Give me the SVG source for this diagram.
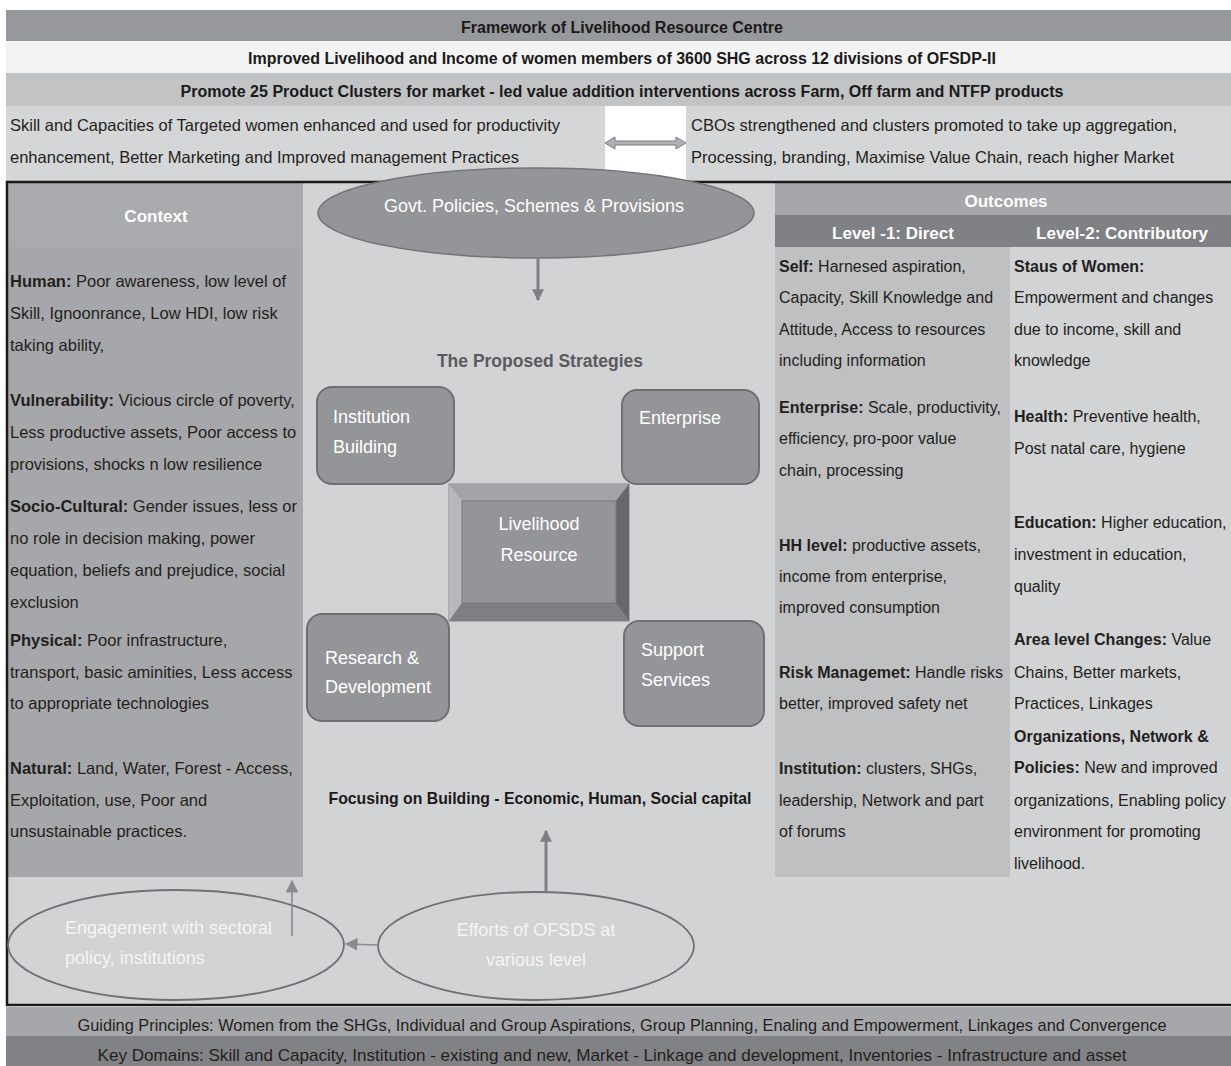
<svg xmlns="http://www.w3.org/2000/svg" width="1231" height="1066" viewBox="0 0 1231 1066">
<style>
text{font-family:"Liberation Sans",Arial,sans-serif;}
.b{font-weight:bold;}
.hd{font-size:16px;font-weight:bold;fill:#1a1a1a;text-anchor:middle;}
.body{font-size:16.5px;fill:#231f20;}
.rb{font-size:16px;fill:#231f20;}
.wh{font-size:17px;font-weight:bold;fill:#ffffff;text-anchor:middle;}
.box{fill:#949598;stroke:#6f7073;stroke-width:2;}
.bt{font-size:18px;fill:#ffffff;}
.ell{fill:none;stroke:#707174;stroke-width:1.8;}
.et{font-size:18px;fill:#f4f4f4;}
.con{stroke:#808184;stroke-width:3;fill:none;}
.con2{stroke:#8a8b8e;stroke-width:1.6;fill:none;}
.bot{font-size:17px;fill:#231f20;text-anchor:middle;}
</style>
<defs>
<marker id="ah" viewBox="0 0 10 10" refX="9" refY="5" markerWidth="4" markerHeight="4" orient="auto-start-reverse"><path d="M0,0 L10,5 L0,10 z" fill="#808184"/></marker>
<marker id="ah2" viewBox="0 0 10 10" refX="9" refY="5" markerWidth="8" markerHeight="8" orient="auto-start-reverse"><path d="M0,0 L10,5 L0,10 z" fill="#8a8b8e"/></marker>
</defs>
<rect width="1231" height="1066" fill="#ffffff"/>

<!-- header rows -->
<g id="header">
<rect x="6" y="10" width="1225" height="31" fill="#97989b"/>
<text class="hd" x="622" y="33" font-size="16.5">Framework of Livelihood Resource Centre</text>
<rect x="6" y="41" width="1225" height="32" fill="#f3f3f3"/>
<text class="hd" x="622" y="64" textLength="748" lengthAdjust="spacingAndGlyphs">Improved Livelihood and Income of women members of 3600 SHG across 12 divisions of OFSDP-II</text>
<rect x="6" y="73" width="1225" height="33" fill="#c2c3c5"/>
<text class="hd" x="622" y="97" textLength="883" lengthAdjust="spacingAndGlyphs">Promote 25 Product Clusters for market - led value addition interventions across Farm, Off farm and NTFP products</text>
</g>
<g id="goal-skill">
<rect x="6" y="106" width="599" height="76" fill="#d5d6d8"/>
<text class="body" x="10" y="131">Skill and Capacities of Targeted women enhanced and used for productivity</text>
<text class="body" x="10" y="163">enhancement, Better Marketing and Improved management Practices</text>
</g>
<g id="goal-cbo">
<rect x="686" y="106" width="545" height="76" fill="#d5d6d8"/>
<text class="body" x="691" y="131">CBOs strengthened and clusters promoted to take up aggregation,</text>
<text class="body" x="691" y="163">Processing, branding, Maximise Value Chain, reach higher Market</text>
</g>

<!-- main frame -->
<rect x="7" y="182" width="1226" height="823" fill="#d2d3d5"/>

<g id="context">
<rect x="8" y="183" width="295" height="694" fill="#a6a7aa"/>
<rect x="8" y="183" width="295" height="64" fill="#a9aaad"/>
<text class="wh" x="156" y="222">Context</text>
<text class="body" x="10" y="287"><tspan class="b">Human:</tspan> Poor awareness, low level of</text>
<text class="body" x="10" y="319">Skill, Ignoonrance, Low HDI, low risk</text>
<text class="body" x="10" y="351">taking ability,</text>
<text class="body" x="10" y="406"><tspan class="b">Vulnerability:</tspan> Vicious circle of poverty,</text>
<text class="body" x="10" y="438">Less productive assets, Poor access to</text>
<text class="body" x="10" y="470">provisions, shocks n low resilience</text>
<text class="body" x="10" y="512"><tspan class="b">Socio-Cultural:</tspan> Gender issues, less or</text>
<text class="body" x="10" y="544">no role in decision making, power</text>
<text class="body" x="10" y="576">equation, beliefs and prejudice, social</text>
<text class="body" x="10" y="608">exclusion</text>
<text class="body" x="10" y="646"><tspan class="b">Physical:</tspan> Poor infrastructure,</text>
<text class="body" x="10" y="678">transport, basic aminities, Less access</text>
<text class="body" x="10" y="709">to appropriate technologies</text>
<text class="body" x="10" y="774"><tspan class="b">Natural:</tspan> Land, Water, Forest - Access,</text>
<text class="body" x="10" y="806">Exploitation, use, Poor and</text>
<text class="body" x="10" y="837">unsustainable practices.</text>
</g>

<g id="outcomes">
<rect x="775" y="183" width="456" height="32" fill="#a6a7aa"/>
<text class="wh" x="1006" y="207">Outcomes</text>
<rect x="775" y="215" width="456" height="32" fill="#808184"/>
<text class="wh" x="893" y="239">Level -1: Direct</text>
<text class="wh" x="1122" y="239">Level-2: Contributory</text>
<rect x="775" y="247" width="235" height="630" fill="#bfc0c2"/>
</g>
<g id="level1">
<text class="rb" x="779" y="272"><tspan class="b">Self:</tspan> Harnesed aspiration,</text>
<text class="rb" x="779" y="303">Capacity, Skill Knowledge and</text>
<text class="rb" x="779" y="335">Attitude, Access to resources</text>
<text class="rb" x="779" y="366">including information</text>
<text class="rb" x="779" y="413"><tspan class="b">Enterprise:</tspan> Scale, productivity,</text>
<text class="rb" x="779" y="444">efficiency, pro-poor value</text>
<text class="rb" x="779" y="476">chain, processing</text>
<text class="rb" x="779" y="551"><tspan class="b">HH level:</tspan> productive assets,</text>
<text class="rb" x="779" y="582">income from enterprise,</text>
<text class="rb" x="779" y="613">improved consumption</text>
<text class="rb" x="779" y="678"><tspan class="b">Risk Managemet:</tspan> Handle risks</text>
<text class="rb" x="779" y="709">better, improved safety net</text>
<text class="rb" x="779" y="774"><tspan class="b">Institution:</tspan> clusters, SHGs,</text>
<text class="rb" x="779" y="806">leadership, Network and part</text>
<text class="rb" x="779" y="837">of forums</text>
</g>
<g id="level2">
<text class="rb" x="1014" y="272"><tspan class="b">Staus of Women:</tspan></text>
<text class="rb" x="1014" y="303">Empowerment and changes</text>
<text class="rb" x="1014" y="335">due to income, skill and</text>
<text class="rb" x="1014" y="366">knowledge</text>
<text class="rb" x="1014" y="422"><tspan class="b">Health:</tspan> Preventive health,</text>
<text class="rb" x="1014" y="454">Post natal care, hygiene</text>
<text class="rb" x="1014" y="528"><tspan class="b">Education:</tspan> Higher education,</text>
<text class="rb" x="1014" y="560">investment in education,</text>
<text class="rb" x="1014" y="592">quality</text>
<text class="rb" x="1014" y="645"><tspan class="b">Area level Changes:</tspan> Value</text>
<text class="rb" x="1014" y="678">Chains, Better markets,</text>
<text class="rb" x="1014" y="709">Practices, Linkages</text>
<text class="rb" x="1014" y="742"><tspan class="b">Organizations, Network &amp;</tspan></text>
<text class="rb" x="1014" y="773"><tspan class="b">Policies:</tspan> New and improved</text>
<text class="rb" x="1014" y="806">organizations, Enabling policy</text>
<text class="rb" x="1014" y="837">environment for promoting</text>
<text class="rb" x="1014" y="869">livelihood.</text>
</g>

<rect x="7" y="182" width="1226" height="823" fill="none" stroke="#1a1a1a" stroke-width="2.5"/>

<g id="govt">
<ellipse cx="536" cy="213" rx="218" ry="45" fill="#949598" stroke="#747578" stroke-width="1.5"/>
<text class="bt" x="534" y="212" text-anchor="middle">Govt. Policies, Schemes &amp; Provisions</text>
</g>

<text x="540" y="367" font-size="17.5" font-weight="bold" fill="#5a5b5e" text-anchor="middle">The Proposed Strategies</text>

<g id="institution-building">
<rect class="box" x="317" y="387" width="137" height="97" rx="15"/>
<text class="bt" x="333" y="423">Institution</text>
<text class="bt" x="333" y="453">Building</text>
</g>
<g id="enterprise">
<rect class="box" x="622" y="390" width="137" height="94" rx="15"/>
<text class="bt" x="639" y="424">Enterprise</text>
</g>
<g id="livelihood-resource">
<rect x="449" y="484" width="180" height="137" fill="#949598" stroke="#85868a" stroke-width="1"/>
<polygon points="449,484 629,484 616,501 462,501" fill="#a3a4a7"/>
<polygon points="449,484 462,501 462,603 449,621" fill="#b7b8bb"/>
<polygon points="629,484 629,621 616,603 616,501" fill="#67686b"/>
<polygon points="449,621 462,603 616,603 629,621" fill="#7e7f82"/>
<rect x="462" y="501" width="154" height="102" fill="#949598" stroke="#7a7b7e" stroke-width="1"/>
<text class="bt" x="539" y="530" text-anchor="middle">Livelihood</text>
<text class="bt" x="539" y="561" text-anchor="middle">Resource</text>
</g>
<g id="research-development">
<rect class="box" x="307" y="614" width="142" height="107" rx="15"/>
<text class="bt" x="325" y="664">Research &amp;</text>
<text class="bt" x="325" y="693">Development</text>
</g>
<g id="support-services">
<rect class="box" x="624" y="621" width="140" height="105" rx="15"/>
<text class="bt" x="641" y="656">Support</text>
<text class="bt" x="641" y="686">Services</text>
</g>

<text x="540" y="804" font-size="17" font-weight="bold" fill="#1a1a1a" text-anchor="middle" textLength="423" lengthAdjust="spacingAndGlyphs">Focusing on Building - Economic, Human, Social capital</text>

<g id="engagement">
<ellipse class="ell" cx="176" cy="945" rx="168" ry="55"/>
<text class="et" x="65" y="934">Engagement  with sectoral</text>
<text class="et" x="65" y="964">policy, institutions</text>
</g>
<g id="efforts">
<ellipse class="ell" cx="536" cy="946" rx="158" ry="54"/>
<text class="et" x="536" y="936" text-anchor="middle">Efforts of OFSDS at</text>
<text class="et" x="536" y="966" text-anchor="middle">various level</text>
</g>

<g id="connectors">
<line class="con" x1="538" y1="258" x2="538" y2="300" marker-end="url(#ah)"/>
<line class="con" x1="546" y1="891" x2="546" y2="831" marker-end="url(#ah)"/>
<line class="con2" x1="378" y1="945" x2="346" y2="944" marker-end="url(#ah2)"/>
<line class="con2" x1="292" y1="936" x2="292" y2="881" marker-end="url(#ah2)"/>
<path d="M605,143 L615,137 L615,141 L676,141 L676,137 L686,143 L676,149 L676,145 L615,145 L615,149 Z" fill="#b0b1b4" stroke="#7a7b7e" stroke-width="1"/>
</g>

<g id="footer">
<rect x="6" y="1007" width="1225" height="29" fill="#a6a7aa"/>
<text class="bot" x="622" y="1031" textLength="1089" lengthAdjust="spacingAndGlyphs">Guiding Principles: Women from the SHGs, Individual and Group Aspirations, Group Planning, Enaling and Empowerment, Linkages and Convergence</text>
<rect x="6" y="1036" width="1225" height="30" fill="#818285"/>
<text class="bot" x="612" y="1061" textLength="1029" lengthAdjust="spacingAndGlyphs">Key Domains: Skill and Capacity, Institution - existing and new,  Market - Linkage and development, Inventories - Infrastructure and asset</text>
</g>
</svg>
